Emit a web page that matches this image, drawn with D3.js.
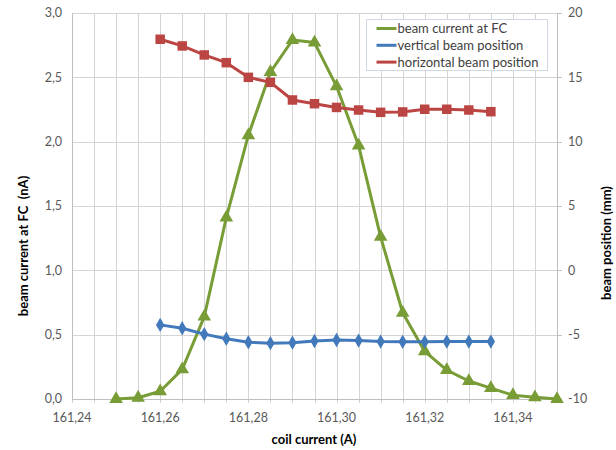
<!DOCTYPE html>
<html>
<head>
<meta charset="utf-8">
<script src="https://cdn.jsdelivr.net/npm/d3@7"></script>
<style>
  body { margin: 0; background: #fff; }
  svg { font-family: Lato, "Open Sans", sans-serif; }
  text { white-space: pre; }
</style>
</head>
<body>
<div id="chart"></div>
<script>
// beam current at FC (left axis)
const coilCurrent = [161.25, 161.255, 161.26, 161.265, 161.27, 161.275, 161.28, 161.285, 161.29, 161.295,
  161.30, 161.305, 161.31, 161.315, 161.32, 161.325, 161.33, 161.335, 161.34, 161.345, 161.35];
const beamCurrent = [0.0, 0.01, 0.06, 0.23, 0.64, 1.41, 2.05, 2.54, 2.79, 2.77,
  2.43, 1.97, 1.26, 0.67, 0.37, 0.225, 0.14, 0.085, 0.03, 0.013, 0.0];

// beam positions (right axis)
const posCurrent = [161.26, 161.265, 161.27, 161.275, 161.28, 161.285, 161.29, 161.295,
  161.30, 161.305, 161.31, 161.315, 161.32, 161.325, 161.33, 161.335];
const verticalPos = [-4.24, -4.5, -4.96, -5.32, -5.59, -5.66, -5.62, -5.49,
  -5.41, -5.46, -5.54, -5.56, -5.56, -5.54, -5.54, -5.54];
const horizontalPos = [17.96, 17.44, 16.74, 16.14, 15.0, 14.61, 13.24, 12.95,
  12.66, 12.46, 12.28, 12.31, 12.52, 12.52, 12.46, 12.33];

const xTicks = [161.24, 161.26, 161.28, 161.30, 161.32, 161.34];
const leftTicks = [0, 0.5, 1.0, 1.5, 2.0, 2.5, 3.0];
const rightTicks = [-10, -5, 0, 5, 10, 15, 20];

const width = 616;
const height = 450;
const margin = { top: 13, right: 59, bottom: 51, left: 72 };

const svg = d3.select("#chart").append("svg")
  .attr("width", width)
  .attr("height", height);

const x = d3.scaleLinear().domain([161.24, 161.35]).range([margin.left, width - margin.right]);
const yL = d3.scaleLinear().domain([0, 3]).range([height - margin.bottom, margin.top]);
const yR = d3.scaleLinear().domain([-10, 20]).range([height - margin.bottom, margin.top]);

const green = "#789c36", blue = "#4179bb", red = "#bb4543";
const fmt = d3.format(".1f");
const comma = (s) => s.replace(".", ",");

// grid
const grid = svg.append("g").attr("stroke", "#d4d4d4").attr("stroke-width", 1);
grid.selectAll(".vg")
  .data(d3.range(0, 23).map((i) => 161.24 + i * 0.005))
  .join("line")
  .attr("x1", (d) => Math.round(x(d)) + 0.5)
  .attr("x2", (d) => Math.round(x(d)) + 0.5)
  .attr("y1", margin.top)
  .attr("y2", height - margin.bottom + 4);
grid.selectAll(".hg")
  .data(leftTicks)
  .join("line")
  .attr("x1", margin.left)
  .attr("x2", width - margin.right)
  .attr("y1", (d) => Math.round(yL(d)) + 0.5)
  .attr("y2", (d) => Math.round(yL(d)) + 0.5);

// axes lines
const axisColor = "#bfbfbf";
svg.append("line")
  .attr("x1", margin.left + 0.5).attr("x2", margin.left + 0.5)
  .attr("y1", margin.top).attr("y2", height - margin.bottom)
  .attr("stroke", axisColor);
svg.append("line")
  .attr("x1", width - margin.right + 0.5).attr("x2", width - margin.right + 0.5)
  .attr("y1", margin.top).attr("y2", height - margin.bottom)
  .attr("stroke", axisColor);
svg.append("line")
  .attr("x1", margin.left).attr("x2", width - margin.right)
  .attr("y1", height - margin.bottom + 0.5).attr("y2", height - margin.bottom + 0.5)
  .attr("stroke", axisColor);
svg.selectAll(".rt")
  .data(rightTicks)
  .join("line")
  .attr("x1", width - margin.right).attr("x2", width - margin.right + 5)
  .attr("y1", (d) => Math.round(yR(d)) + 0.5).attr("y2", (d) => Math.round(yR(d)) + 0.5)
  .attr("stroke", axisColor);

// tick labels
const tickStyle = (sel) => sel.attr("font-size", "12.5px").attr("fill", "#595959");
svg.append("g").selectAll("text")
  .data(leftTicks)
  .join("text")
  .attr("x", margin.left - 10)
  .attr("y", (d) => yL(d))
  .attr("dy", "0.35em")
  .attr("text-anchor", "end")
  .text((d) => comma(fmt(d)))
  .call(tickStyle);
svg.append("g").selectAll("text")
  .data(rightTicks)
  .join("text")
  .attr("x", width - margin.right + 11)
  .attr("y", (d) => yR(d))
  .attr("dy", "0.35em")
  .text((d) => d)
  .call(tickStyle);
svg.append("g").selectAll("text")
  .data(xTicks)
  .join("text")
  .attr("x", (d) => x(d))
  .attr("y", height - margin.bottom + 19)
  .attr("dy", "0.35em")
  .attr("text-anchor", "middle")
  .text((d) => comma(d.toFixed(2)))
  .call(tickStyle);

// axis titles
svg.append("text")
  .attr("transform", "translate(23,246) rotate(-90)")
  .attr("text-anchor", "middle")
  .attr("dy", "0.35em")
  .attr("font-size", "13px")
  .attr("font-weight", "bold")
  .text("beam current at FC  (nA)");
svg.append("text")
  .attr("transform", "translate(606,243) rotate(-90)")
  .attr("text-anchor", "middle")
  .attr("dy", "0.35em")
  .attr("font-size", "13px")
  .attr("font-weight", "bold")
  .text("beam position (mm)");
svg.append("text")
  .attr("x", 314)
  .attr("y", 439)
  .attr("text-anchor", "middle")
  .attr("dy", "0.35em")
  .attr("font-size", "13px")
  .attr("font-weight", "bold")
  .text("coil current (A)");

// marker shapes
const tri = d3.symbol().type(d3.symbolTriangle).size(80);
const dia = d3.symbol().type(d3.symbolDiamond).size(60);
const sq = d3.symbol().type(d3.symbolSquare).size(90);

function drawSeries(xs, ys, yScale, color, sym) {
  const pts = xs.map((v, i) => [x(v), yScale(ys[i])]);
  svg.append("path")
    .attr("d", d3.line()(pts))
    .attr("fill", "none")
    .attr("stroke", color)
    .attr("stroke-width", 3)
    .attr("stroke-linejoin", "round");
  svg.append("g").selectAll("path")
    .data(pts)
    .join("path")
    .attr("transform", (d) => `translate(${d[0]},${d[1]})`)
    .attr("d", sym)
    .attr("fill", color);
}

drawSeries(coilCurrent, beamCurrent, yL, green, tri);
drawSeries(posCurrent, verticalPos, yR, blue, dia);
drawSeries(posCurrent, horizontalPos, yR, red, sq);

// legend
const legendItems = [
  { name: "beam current at FC", color: green, sym: tri },
  { name: "vertical beam position", color: blue, sym: dia },
  { name: "horizontal beam position", color: red, sym: sq },
];
const legend = svg.append("g").attr("transform", "translate(366.5,19.5)");
legend.append("rect")
  .attr("width", 181)
  .attr("height", 51)
  .attr("fill", "#fff")
  .attr("stroke", "#d0d8e4");
const li = legend.selectAll(".li")
  .data(legendItems)
  .join("g")
  .attr("transform", (d, i) => `translate(10,${9 + i * 16.8})`);
li.append("line")
  .attr("x1", 0).attr("x2", 20)
  .attr("stroke", (d) => d.color)
  .attr("stroke-width", 3);
li.append("path")
  .attr("transform", "translate(10,0)")
  .attr("d", (d) => d.sym)
  .attr("fill", (d) => d.color);
li.append("text")
  .attr("x", 21)
  .attr("dy", "0.35em")
  .attr("font-size", "13px")
  .attr("fill", "#404040")
  .text((d) => d.name);
</script>
</body>
</html>
